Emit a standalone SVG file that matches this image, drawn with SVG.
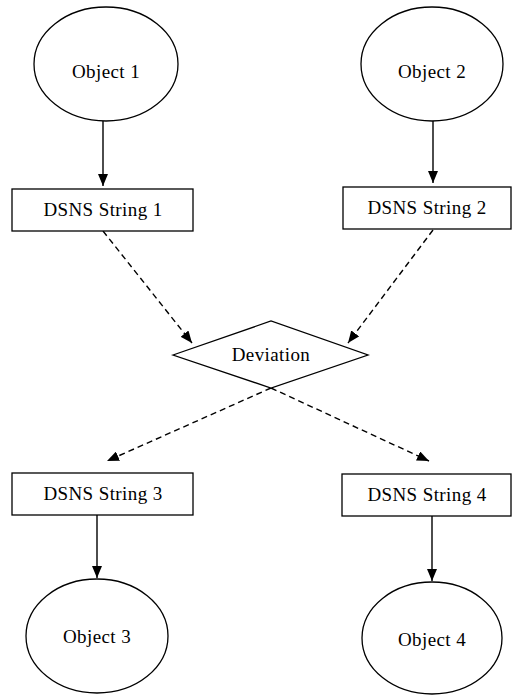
<svg xmlns="http://www.w3.org/2000/svg" width="513" height="695" viewBox="0 0 513 695">
<style>
.n{fill:#fff;stroke:#000;stroke-width:1.3}
.t{font-family:"Liberation Serif","Times New Roman",serif;font-size:19px;fill:#000;text-anchor:middle;letter-spacing:0.4px}
.c{stroke:#000;stroke-width:1.4;fill:none}
.d{stroke-dasharray:6 4}
</style>
<defs>
<marker id="ah" viewBox="0 0 12 10" refX="12" refY="5" markerWidth="12" markerHeight="10" markerUnits="userSpaceOnUse" orient="auto">
<path d="M0,0 L12,5 L0,10 Z" fill="#000"/>
</marker>
</defs>
<g id="connectors">
<line class="c" x1="103" y1="121" x2="103" y2="186" marker-end="url(#ah)"/>
<line class="c" x1="433" y1="121" x2="433" y2="183" marker-end="url(#ah)"/>
<line class="c d" x1="103" y1="231" x2="192" y2="343" marker-end="url(#ah)"/>
<line class="c d" x1="433" y1="230" x2="348" y2="343" marker-end="url(#ah)"/>
<line class="c d" x1="271" y1="388" x2="107" y2="461" marker-end="url(#ah)"/>
<line class="c d" x1="271" y1="388" x2="429" y2="461" marker-end="url(#ah)"/>
<line class="c" x1="97" y1="515" x2="97" y2="578" marker-end="url(#ah)"/>
<line class="c" x1="432" y1="516" x2="432" y2="581" marker-end="url(#ah)"/>
</g>
<g id="object1">
<ellipse class="n" cx="106" cy="64" rx="72" ry="57"/>
<text class="t" x="106" y="78">Object 1</text>
</g>
<g id="object2">
<ellipse class="n" cx="432" cy="64" rx="71" ry="57"/>
<text class="t" x="432" y="78">Object 2</text>
</g>
<g id="string1">
<rect class="n" x="12" y="189" width="181" height="42"/>
<text class="t" x="103" y="216">DSNS String 1</text>
</g>
<g id="string2">
<rect class="n" x="343" y="187" width="168" height="42"/>
<text class="t" x="427" y="214">DSNS String 2</text>
</g>
<g id="deviation">
<polygon class="n" points="173,355 271,321 368,355 271,388"/>
<text class="t" x="271" y="361">Deviation</text>
</g>
<g id="string3">
<rect class="n" x="12" y="473" width="181" height="42"/>
<text class="t" x="103" y="500">DSNS String 3</text>
</g>
<g id="string4">
<rect class="n" x="342" y="474" width="169" height="42"/>
<text class="t" x="427" y="501">DSNS String 4</text>
</g>
<g id="object3">
<ellipse class="n" cx="97" cy="636" rx="71" ry="57"/>
<text class="t" x="97" y="643">Object 3</text>
</g>
<g id="object4">
<ellipse class="n" cx="432" cy="638" rx="70" ry="56"/>
<text class="t" x="432" y="646">Object 4</text>
</g>
</svg>
